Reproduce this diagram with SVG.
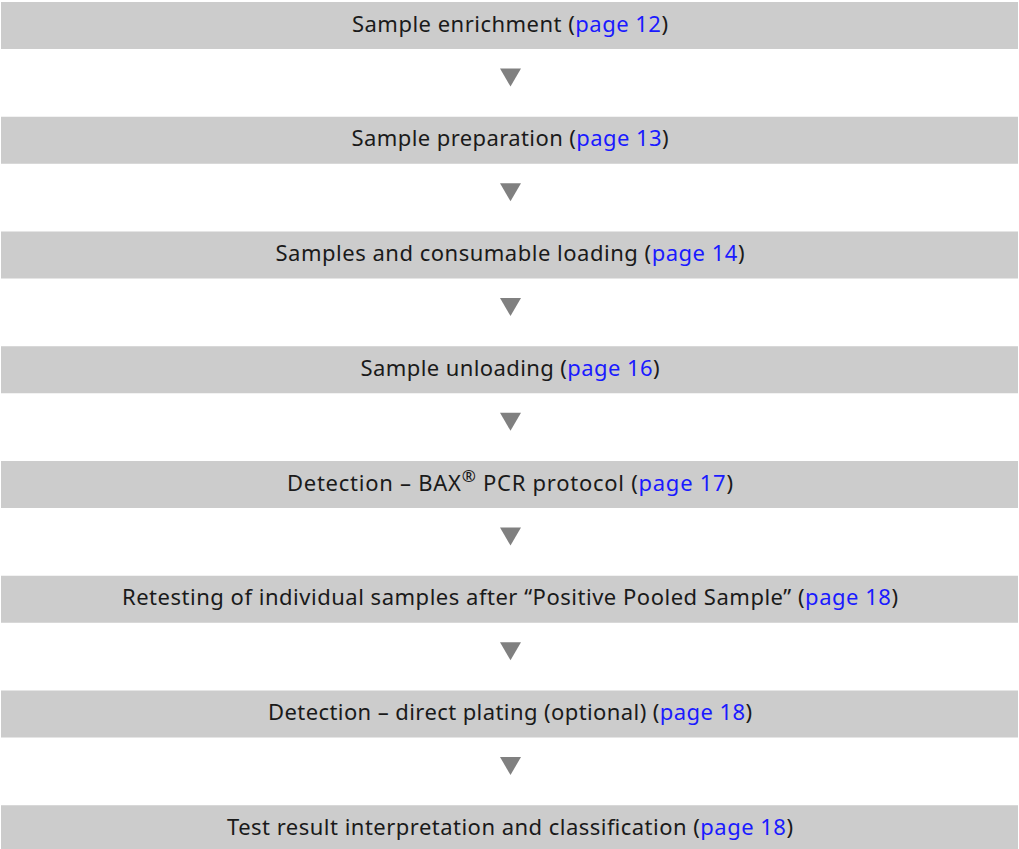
<svg xmlns="http://www.w3.org/2000/svg" width="1019" height="849" viewBox="0 0 1019 849">
<style>
.bar{fill:#cccccc}
.t{font-family:"Noto Sans","DejaVu Sans",sans-serif;font-size:22px;fill:#1a1a1a;text-anchor:middle}
.lk{fill:#1a1aff}
.arr{fill:#808080}
</style>
<rect x="0" y="0" width="1019" height="849" fill="#ffffff"/>
<g id="connectors">
<polygon class="arr" points="500,68.5 521,68.5 510.5,86.5"/>
<polygon class="arr" points="500,183.25 521,183.25 510.5,201.25"/>
<polygon class="arr" points="500,298 521,298 510.5,316"/>
<polygon class="arr" points="500,412.75 521,412.75 510.5,430.75"/>
<polygon class="arr" points="500,527.5 521,527.5 510.5,545.5"/>
<polygon class="arr" points="500,642.25 521,642.25 510.5,660.25"/>
<polygon class="arr" points="500,757 521,757 510.5,775"/>
</g>
<g id="n1"><rect class="bar" x="1" y="2" width="1017" height="47"/><text class="t" x="510" y="31.5" textLength="316">Sample enrichment (<tspan class="lk">page 12</tspan>)</text></g>
<g id="n2"><rect class="bar" x="1" y="116.75" width="1017" height="47"/><text class="t" x="510" y="146.25" textLength="317">Sample preparation (<tspan class="lk">page 13</tspan>)</text></g>
<g id="n3"><rect class="bar" x="1" y="231.5" width="1017" height="47"/><text class="t" x="510" y="261" textLength="469">Samples and consumable loading (<tspan class="lk">page 14</tspan>)</text></g>
<g id="n4"><rect class="bar" x="1" y="346.25" width="1017" height="47"/><text class="t" x="510" y="375.75" textLength="299">Sample unloading (<tspan class="lk">page 16</tspan>)</text></g>
<g id="n5"><rect class="bar" x="1" y="461" width="1017" height="47"/><text class="t" x="510" y="490.5" textLength="446">Detection – BAX<tspan font-size="17" dy="-9">®</tspan><tspan dy="9"> PCR protocol (</tspan><tspan class="lk">page 17</tspan>)</text></g>
<g id="n6"><rect class="bar" x="1" y="575.75" width="1017" height="47"/><text class="t" x="510" y="605.25" textLength="776">Retesting of individual samples after “Positive Pooled Sample” (<tspan class="lk">page 18</tspan>)</text></g>
<g id="n7"><rect class="bar" x="1" y="690.5" width="1017" height="47"/><text class="t" x="510" y="720" textLength="484">Detection – direct plating (optional) (<tspan class="lk">page 18</tspan>)</text></g>
<g id="n8"><rect class="bar" x="1" y="805.25" width="1017" height="47"/><text class="t" x="510" y="834.75" textLength="566">Test result interpretation and classification (<tspan class="lk">page 18</tspan>)</text></g>
</svg>
